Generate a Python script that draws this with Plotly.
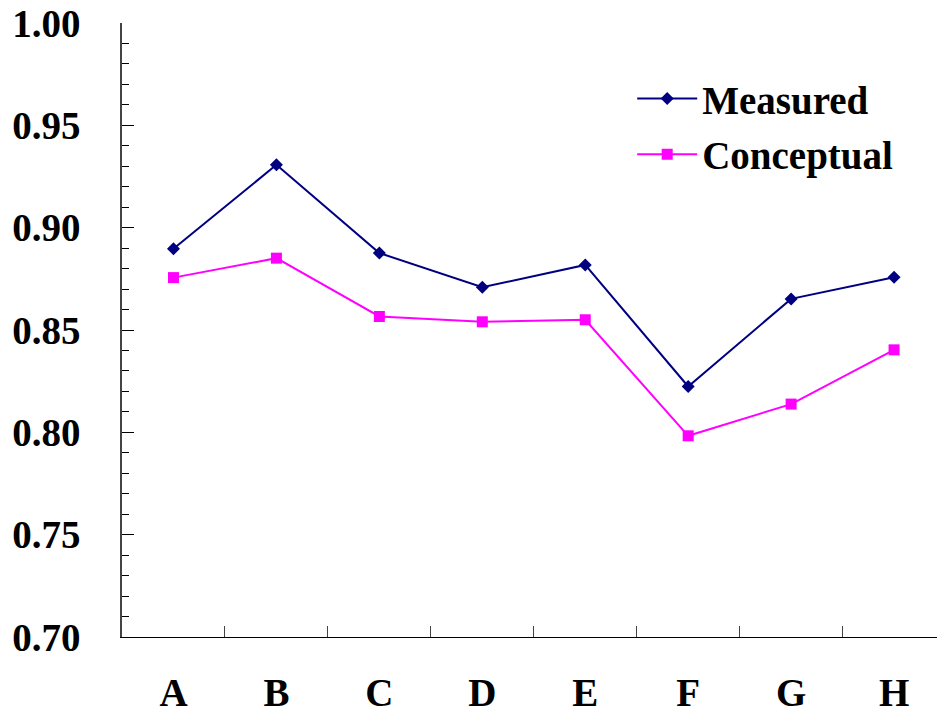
import plotly.graph_objects as go

categories = ["A", "B", "C", "D", "E", "F", "G", "H"]
measured = [0.8897, 0.9307, 0.8876, 0.8709, 0.8818, 0.8224, 0.8652, 0.8758]
conceptual = [0.8756, 0.8851, 0.8566, 0.8540, 0.8550, 0.7983, 0.8138, 0.8403]

FONT = "Liberation Serif"
FS = 39

fig = go.Figure()
fig.add_trace(go.Scatter(
    x=categories, y=measured, name="Measured", mode="lines+markers",
    line=dict(color="#000080", width=2),
    marker=dict(symbol="diamond", size=10, color="#000080"),
    legendgroup="m",
))
fig.add_trace(go.Scatter(
    x=categories, y=conceptual, name="Conceptual", mode="lines+markers",
    line=dict(color="#FF00FF", width=2),
    marker=dict(symbol="square", size=11, color="#FF00FF"),
    legendgroup="c",
))

fig.update_layout(
    width=937, height=715,
    margin=dict(l=122, r=0, t=23, b=78),
    paper_bgcolor="white", plot_bgcolor="white",
    font=dict(family=FONT, size=FS, color="black"),
    showlegend=True,
    legend=dict(
        x=0.626, y=0.929, xanchor="left", yanchor="top",
        font=dict(family=FONT, size=FS, color="black", weight="bold"),
        bgcolor="rgba(0,0,0,0)", tracegroupgap=2, itemwidth=60,
    ),
    xaxis=dict(
        type="category", range=[-0.5, 7.417], automargin=False,
        showline=True, linecolor="black", linewidth=1,
        ticks="inside", ticklen=11, tickcolor="#444", tickson="boundaries",
        showgrid=False, zeroline=False,
        tickfont=dict(family=FONT, size=FS, color="black", weight="bold"),
        ticklabelstandoff=21,
    ),
    yaxis=dict(
        range=[0.7, 1.0], dtick=0.05, tick0=0.7, tickformat=".2f", automargin=False,
        showline=True, linecolor="#444", linewidth=1.5,
        ticks="inside", ticklen=12, tickcolor="black",
        minor=dict(dtick=0.01, ticks="inside", ticklen=7, tickcolor="black", showgrid=False),
        showgrid=False, zeroline=False,
        tickfont=dict(family=FONT, size=FS, color="black", weight="bold"),
        ticklabelstandoff=32,
    ),
)

fig.write_html(
    "out.html",
    config={"displayModeBar": False},
    post_script="document.body.style.margin='0';document.body.style.overflow='hidden';",
)
